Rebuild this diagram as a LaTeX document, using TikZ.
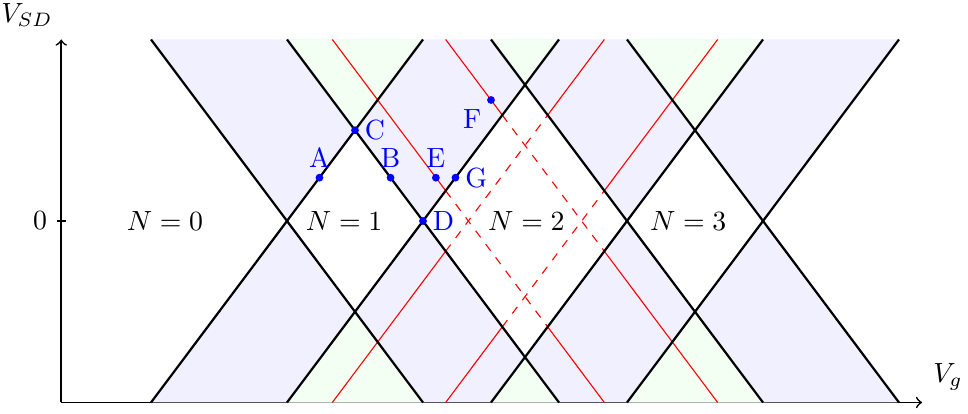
\documentclass[tikz,border=0pt]{standalone}
\begin{document}
\begin{tikzpicture}[x=48.96pt,y=65.34pt,
  wedge/.style={fill=blue!6},
  overlap/.style={fill=green!5},
  charge/.style={black,line width=0.8pt},
  excited/.style={red,line width=0.4pt},
  axis/.style={line width=0.6pt,->},
  pt/.style={circle,fill=blue,inner sep=0pt,minimum size=2.8pt},
  lbl/.style={text=blue}
]
\useasboundingbox (-2.1103,-1.0634) rectangle (5.0074,1.2176);
% axes
\coordinate (O) at (-1.66,-1);
\coordinate (Xend) at (4.67,-1);
\coordinate (Yend) at (-1.66,1);
\coordinate (T) at (-1.66,0);
\draw[axis] (O) -- (Xend);
\draw[axis] (O) -- (Yend);
\draw[line width=0.6pt] ([xshift=-1.6pt]T) -- ([xshift=1.6pt]T);
\node[left] (zero) at ([xshift=-1.6pt]T) {$0$};
\node (vsd) at (-1.912,1.135) {$V_{SD}$};
\node (vg) at (4.86,-0.86) {$V_g$};
% shaded conduction wedges
\foreach \c in {0,1,2.5,3.5}{
  \fill[wedge] (\c-1,1) -- (\c,0) -- (\c+1,1) -- cycle;
  \fill[wedge] (\c-1,-1) -- (\c,0) -- (\c+1,-1) -- cycle;
}
% overlaps
\foreach \a/\m/\b/\h in {0/0.5/1/0.5, 1.5/1.75/2/0.25, 2.5/3/3.5/0.5}{
  \fill[overlap] (\a,1) -- (\m,1-\h) -- (\b,1) -- cycle;
  \fill[overlap] (\a,-1) -- (\m,-1+\h) -- (\b,-1) -- cycle;
}
% red excited-state lines (dashed inside the N=2 diamond)
\draw[excited] (0.3333,1) -- (1.1667,0.1667);
\draw[excited,dashed] (1.1667,0.1667) -- (1.9167,-0.5833);
\draw[excited] (1.9167,-0.5833) -- (2.3333,-1);
\draw[excited] (1.1667,1) -- (1.5833,0.5833);
\draw[excited,dashed] (1.5833,0.5833) -- (2.3333,-0.1667);
\draw[excited] (2.3333,-0.1667) -- (3.1667,-1);
\draw[excited] (0.3333,-1) -- (1.1667,-0.1667);
\draw[excited,dashed] (1.1667,-0.1667) -- (1.9167,0.5833);
\draw[excited] (1.9167,0.5833) -- (2.3333,1);
\draw[excited] (1.1667,-1) -- (1.5833,-0.5833);
\draw[excited,dashed] (1.5833,-0.5833) -- (2.3333,0.1667);
\draw[excited] (2.3333,0.1667) -- (3.1667,1);
% charge transition lines
\foreach \c in {0,1,2.5,3.5}{
  \draw[charge] (\c-1,-1) -- (\c+1,1);
  \draw[charge] (\c-1,1) -- (\c+1,-1);
}
% region labels
\node (n0) at (-0.897,0) {$N=0$};
\node (n1) at (0.42,0) {$N=1$};
\node (n2) at (1.76,0) {$N=2$};
\node (n3) at (2.95,0) {$N=3$};
% points
\node[pt] (A) at (0.2386,0.2386) {};
\node[pt] (B) at (0.7614,0.2386) {};
\node[pt] (C) at (0.5,0.5) {};
\node[pt] (D) at (1,0) {};
\node[pt] (E) at (1.0947,0.2386) {};
\node[pt] (G) at (1.2386,0.2386) {};
\node[pt] (F) at (1.5,0.6667) {};
\node[lbl,above] (lA) at (A.center) {A};
\node[lbl,above] (lB) at (B.center) {B};
\node[lbl,right] (lC) at (C.center) {C};
\node[lbl,right] (lD) at (D.center) {D};
\node[lbl,above] (lE) at (E.center) {E};
\node[lbl,right] (lG) at (G.center) {G};
\node[lbl,below left] (lF) at (F.center) {F};
\end{tikzpicture}
\end{document}
